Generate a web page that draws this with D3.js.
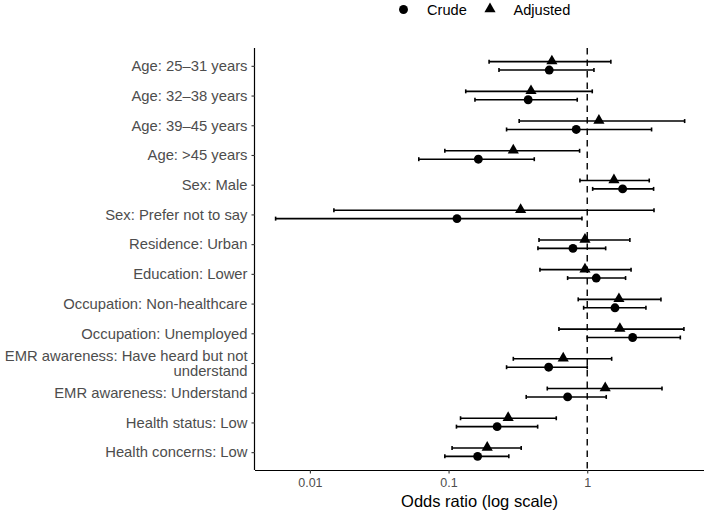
<!DOCTYPE html>
<html>
<head>
<meta charset="utf-8">
<script src="https://cdn.jsdelivr.net/npm/d3@7"></script>
<style>
  html, body { margin: 0; padding: 0; background: #fff; }
  svg { display: block; font-family: "Liberation Sans", Arial, sans-serif; }
</style>
</head>
<body>
<svg id="chart" width="708" height="513"></svg>
<script>
const categories = [
  "Age: 25\u201331 years",
  "Age: 32\u201338 years",
  "Age: 39\u201345 years",
  "Age: >45 years",
  "Sex: Male",
  "Sex: Prefer not to say",
  "Residence: Urban",
  "Education: Lower",
  "Occupation: Non-healthcare",
  "Occupation: Unemployed",
  "EMR awareness: Have heard but not understand",
  "EMR awareness: Understand",
  "Health status: Low",
  "Health concerns: Low"
];
const crudeOR    = [0.532, 0.375, 0.833, 0.164, 1.80, 0.115, 0.789, 1.161, 1.585, 2.125, 0.527, 0.722, 0.224, 0.162];
const crudeLow   = [0.231, 0.155, 0.262, 0.061, 1.094, 0.00566, 0.441, 0.722, 0.942, 1.00, 0.262, 0.363, 0.114, 0.094];
const crudeHigh  = [1.118, 0.847, 2.91, 0.415, 3.01, 0.916, 1.358, 1.89, 2.65, 4.69, 1.00, 1.371, 0.439, 0.272];
const adjOR      = [0.556, 0.393, 1.214, 0.293, 1.558, 0.331, 0.963, 0.963, 1.693, 1.72, 0.671, 1.348, 0.269, 0.19];
const adjLow     = [0.196, 0.133, 0.323, 0.094, 0.886, 0.0149, 0.449, 0.456, 0.861, 0.625, 0.293, 0.515, 0.122, 0.106];
const adjHigh    = [1.48, 1.087, 5.04, 0.881, 2.80, 3.03, 2.03, 2.07, 3.40, 4.98, 1.50, 3.46, 0.598, 0.334];
const xTicks = [0.01, 0.1, 1];
const xTickLabels = ["0.01", "0.1", "1"];
const seriesNames = ["Crude", "Adjusted"];

const svg = d3.select("#chart");
const pLeft = 255, pRight = 704, pTop = 48, pBottom = 470;

const x = d3.scaleLog().domain([0.00402, 6.95]).range([pLeft, pRight]);
const y = d3.scalePoint().domain(categories).range([pTop, pBottom]).padding(0.6);
const dodge = 4.2;

const rows = [];
categories.forEach((c, i) => {
  rows.push({cat: c, type: "Adjusted", or: adjOR[i], lo: adjLow[i], hi: adjHigh[i], off: -dodge});
  rows.push({cat: c, type: "Crude", or: crudeOR[i], lo: crudeLow[i], hi: crudeHigh[i], off: dodge});
});

// reference line at 1
svg.append("line")
  .attr("x1", x(1)).attr("x2", x(1))
  .attr("y1", pTop).attr("y2", pBottom)
  .attr("stroke", "#000").attr("stroke-width", 1.4)
  .attr("stroke-dasharray", "6.5,5");

// error bars
const capH = 2;
const g = svg.append("g");
rows.forEach(r => {
  const yy = y(r.cat) + r.off;
  g.append("line").attr("x1", x(r.lo)).attr("x2", x(r.hi)).attr("y1", yy).attr("y2", yy)
    .attr("stroke", "#000").attr("stroke-width", 1.6);
  [r.lo, r.hi].forEach(v => {
    g.append("line").attr("x1", x(v)).attr("x2", x(v)).attr("y1", yy - capH).attr("y2", yy + capH)
      .attr("stroke", "#000").attr("stroke-width", 1.6);
  });
});

const circ = d3.symbol().type(d3.symbolCircle).size(62);
const tri = d3.symbol().type(d3.symbolTriangle).size(54);
rows.forEach(r => {
  const yy = y(r.cat) + r.off;
  g.append("path")
    .attr("d", r.type === "Crude" ? circ() : tri())
    .attr("transform", `translate(${x(r.or)},${yy + (r.type === "Crude" ? 0 : -0.5)})`)
    .attr("fill", "#000");
});

// axes
const xAxis = d3.axisBottom(x).tickValues(xTicks).tickFormat((d, i) => xTickLabels[i]).tickSize(3.5).tickPadding(5);
const gx = svg.append("g").attr("transform", `translate(0,${pBottom})`).call(xAxis);
gx.select(".domain").attr("d", `M${pLeft},0.5H${pRight}`).attr("stroke", "#000").attr("stroke-width", 1.2);
gx.selectAll(".tick line").attr("stroke", "#333").attr("stroke-width", 1.1);
gx.selectAll(".tick text").attr("fill", "#4D4D4D").style("font-size", "12.5px");

const yAxis = d3.axisLeft(y).tickSize(3.5).tickPadding(4);
const gy = svg.append("g").attr("transform", `translate(${pLeft},0)`).call(yAxis);
gy.select(".domain").attr("d", `M-0.5,${pTop}V${pBottom}`).attr("stroke", "#000").attr("stroke-width", 1.2);
gy.selectAll(".tick line").attr("stroke", "#333").attr("stroke-width", 1.1);
gy.selectAll(".tick text")
  .attr("fill", "#4D4D4D")
  .style("font-size", "14.8px")
  .each(function(d) {
    const t = d3.select(this);
    if (d.startsWith("EMR awareness: Have heard")) {
      t.text(null).attr("dy", null);
      t.append("tspan").attr("x", -7.5).attr("dy", "-0.2em").text("EMR awareness: Have heard but not");
      t.append("tspan").attr("x", -7.5).attr("dy", "1.06em").text("understand");
    }
  });

// x axis title
svg.append("text")
  .attr("x", (pLeft + pRight) / 2).attr("y", 507)
  .attr("text-anchor", "middle")
  .style("font-size", "16.5px").attr("fill", "#000")
  .text("Odds ratio (log scale)");

// legend
const lg = svg.append("g");
lg.append("path").attr("d", circ()).attr("transform", "translate(403.5,9.5)").attr("fill", "#000");
lg.append("text").attr("x", 427).attr("y", 14.5).style("font-size", "14.6px").text(seriesNames[0]);
lg.append("path").attr("d", tri()).attr("transform", "translate(490,9)").attr("fill", "#000");
lg.append("text").attr("x", 513.5).attr("y", 14.5).style("font-size", "14.6px").text(seriesNames[1]);
</script>
</body>
</html>
